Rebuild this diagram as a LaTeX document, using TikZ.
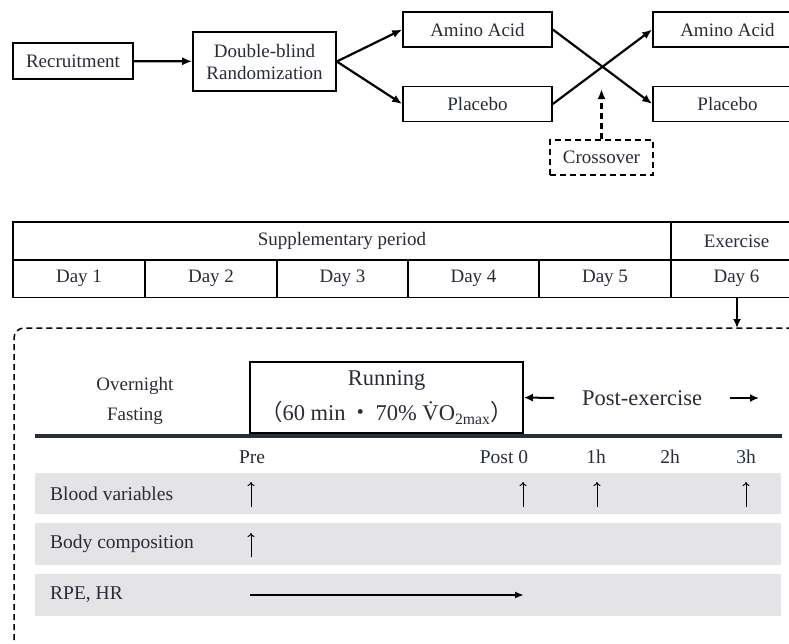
\documentclass[tikz,border=0pt]{standalone}
\usepackage{fontspec}
\setmainfont{Liberation Serif}
\newfontfamily\cjk{Noto Sans CJK JP}
\usetikzlibrary{arrows.meta,positioning}
\definecolor{inkgray}{RGB}{40,44,54}
\definecolor{rowgray}{RGB}{228,227,229}
\definecolor{navyline}{RGB}{40,46,60}

\begin{document}
\begin{tikzpicture}[x=1pt,y=-1pt,
    box/.style={draw, line width=1.6pt, inner sep=0pt, text=inkgray, font=\fontsize{19}{22}\selectfont},
    cell/.style={box, minimum height=38pt},
    flow/.style={line width=2.2pt, -{Latex[length=10pt,width=8pt]}},
    tick/.style={line width=1pt, -{To[length=4pt,width=7pt]}},
    lbl/.style={text=inkgray, font=\fontsize{19.5}{22}\selectfont, inner sep=0pt}]

    \useasboundingbox (0,0) rectangle (789,643);
    \clip (0,0) rectangle (789,643);

    % design flow
    \node[box, minimum width=120pt, minimum height=36pt] (recr) at (73,61) {Recruitment};
    \node[box, minimum width=143pt, minimum height=59pt, align=center] (rand) at (264.5,61.5) {Double-blind\\Randomization};
    \node[box, minimum width=149pt, minimum height=35pt] (amino1) at (477.5,29.5) {Amino Acid};
    \node[box, minimum width=149pt, minimum height=35pt] (plac1) at (477.5,104) {Placebo};
    \node[box, minimum width=149pt, minimum height=35pt] (amino2) at (727.5,29.5) {Amino Acid};
    \node[box, minimum width=149pt, minimum height=35pt] (plac2) at (727.5,104) {Placebo};
    \node[box, dash pattern=on 6pt off 4pt, line width=2pt, minimum width=103pt, minimum height=35pt] (cross) at (601.5,157.5) {Crossover};
    \coordinate (xpt) at (601.5,89);

    \draw[flow] (recr) -- (rand);
    \draw[flow] (rand.east) -- (amino1.west);
    \draw[flow] (rand.east) -- (plac1.west);
    \draw[flow] (amino1.east) -- (plac2.west);
    \draw[flow] (plac1.east) -- (amino2.west);
    \draw[flow, dash pattern=on 6pt off 4pt] (cross) -- (xpt);

    % schedule table
    \node[cell, minimum width=658pt] (supp) at (342,241) {Supplementary period};
    \node[cell, minimum width=131pt] (exer) at (736.5,241) {Exercise};
    \node[cell, minimum width=132pt] (day1) at (79,278.5) {Day 1};
    \node[cell, minimum width=132pt] (day2) at (211,278.5) {Day 2};
    \node[cell, minimum width=131pt] (day3) at (342.5,278.5) {Day 3};
    \node[cell, minimum width=131pt] (day4) at (473.5,278.5) {Day 4};
    \node[cell, minimum width=132pt] (day5) at (605,278.5) {Day 5};
    \node[cell, minimum width=131pt] (day6) at (736.5,278.5) {Day 6};

    % exercise day detail
    \draw[line width=1.5pt, dash pattern=on 6pt off 4pt, rounded corners=10pt] (14,660) |- (800,328);
    \coordinate (detail) at (737,328);
    \draw[line width=2pt, -{Latex[length=9pt,width=8pt]}] (day6.south -| detail) -- (detail);

    \node[lbl, align=center, font=\fontsize{19}{30}\selectfont] (fast) at (135,401) {Overnight\\Fasting};
    \node[box, minimum width=273pt, minimum height=71pt, align=center, font=\fontsize{22.5}{35}\selectfont] (run) at (386.5,397.5)
        {Running\\{\cjk （}60 min\,{\cjk ・}\,70\% \.{V}O\textsubscript{2max}{\cjk ）}};
    \node[lbl, font=\fontsize{22.5}{26}\selectfont] (post) at (642,398) {Post-exercise};
    \coordinate (pel) at (554,398);
    \coordinate (per1) at (730,398);
    \coordinate (per2) at (759,398);
    \draw[line width=2pt, -{Latex[length=9pt,width=8pt]}] (pel) -- (run.east);
    \draw[line width=2pt, -{Latex[length=9pt,width=8pt]}] (per1) -- (per2);

    \coordinate (bl1) at (35,436);
    \coordinate (bl2) at (782,436);
    \draw[line width=3.2pt, navyline] (bl1) -- (bl2);

    \node[lbl] (pre) at (252,457) {Pre};
    \node[lbl] (post0) at (504,457) {Post 0};
    \node[lbl] (h1) at (596,457) {1h};
    \node[lbl] (h2) at (670,457) {2h};
    \node[lbl] (h3) at (746,457) {3h};

    % measurement rows
    \fill[rowgray] (35,473) rectangle (781,514);
    \fill[rowgray] (35,523) rectangle (781,565);
    \fill[rowgray] (35,574) rectangle (781,616);
    \node[lbl, anchor=west] (bloodlbl) at (50,493.5) {Blood variables};
    \node[lbl, anchor=west] (bodylbl) at (50,544) {Body composition};
    \node[lbl, anchor=west] (rpelbl) at (50,595) {RPE, HR};

    \coordinate (b1a) at (251,507); \coordinate (b1b) at (251,482);
    \coordinate (b2a) at (523,507); \coordinate (b2b) at (523,482);
    \coordinate (b3a) at (597,507); \coordinate (b3b) at (597,482);
    \coordinate (b4a) at (746,507); \coordinate (b4b) at (746,482);
    \coordinate (c1a) at (251,557); \coordinate (c1b) at (251,533);
    \draw[tick] (b1a) -- (b1b);
    \draw[tick] (b2a) -- (b2b);
    \draw[tick] (b3a) -- (b3b);
    \draw[tick] (b4a) -- (b4b);
    \draw[tick] (c1a) -- (c1b);

    \coordinate (r1) at (250,595);
    \coordinate (r2) at (524,595);
    \draw[line width=2pt, -{Latex[length=9pt,width=7pt]}] (r1) -- (r2);

\end{tikzpicture}
\end{document}
